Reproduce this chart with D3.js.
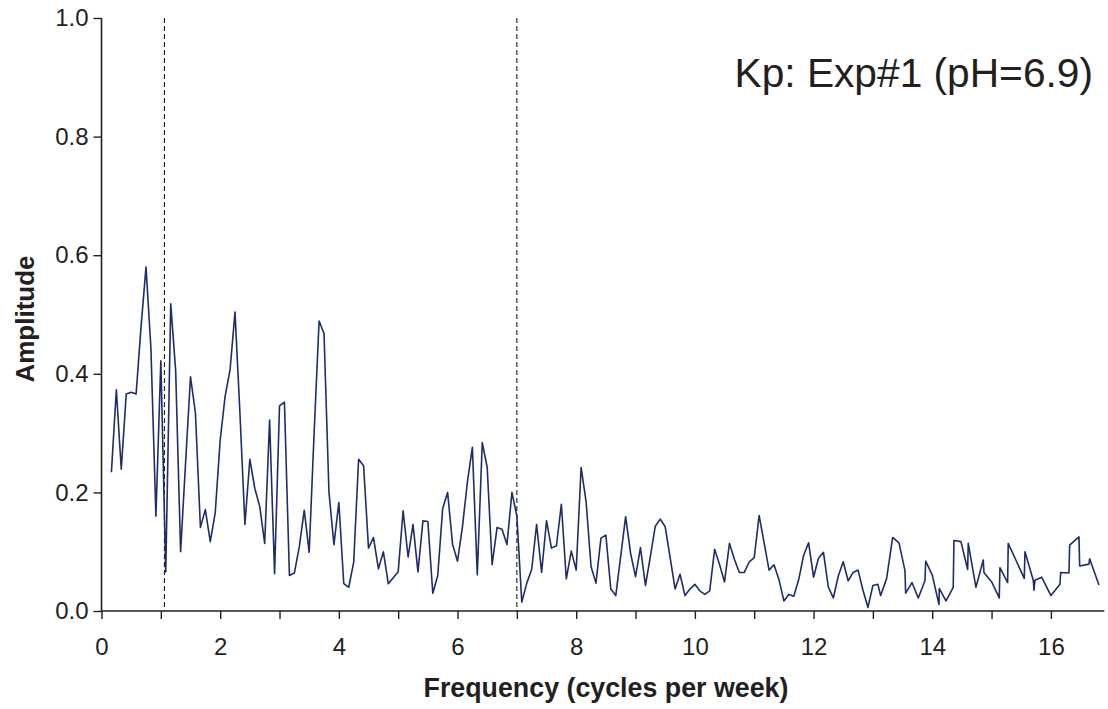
<!DOCTYPE html>
<html>
<head>
<meta charset="utf-8">
<script src="https://cdn.jsdelivr.net/npm/d3@7"></script>
<style>
  html, body { margin: 0; padding: 0; background: #fff; }
  svg { display: block; font-family: "Liberation Sans", Arial, sans-serif; }
</style>
</head>
<body>
<svg id="chart" width="1108" height="709"></svg>
<script>
// ---------------- DATA ----------------
const frequency = [
  0.167,0.250,0.333,0.417,0.500,0.583,0.667,0.750,0.833,0.917,1.000,
  1.083,1.167,1.250,1.333,1.417,1.500,1.583,1.667,1.750,1.833,1.917,2.000,
  2.083,2.167,2.250,2.333,2.417,2.500,2.583,2.667,2.750,2.833,2.917,3.000,
  3.083,3.167,3.250,3.333,3.417,3.500,3.583,3.667,3.750,3.833,3.917,4.000,
  4.083,4.167,4.250,4.333,4.417,4.500,4.583,4.667,4.750,4.833,4.917,5.000,
  5.083,5.167,5.250,5.333,5.417,5.500,5.583,5.667,5.750,5.833,5.917,6.000,
  6.083,6.167,6.250,6.333,6.417,6.500,6.583,6.667,6.750,6.833,6.917,7.000,
  7.083,7.167,7.250,7.333,7.417,7.500,7.583,7.667,7.750,7.833,7.917,8.000,
  8.083,8.167,8.250,8.333,8.417,8.500,8.583,8.667,8.750,8.833,8.917,9.000,
  9.083,9.167,9.250,9.333,9.417,9.500,9.583,9.667,9.750,9.833,9.917,10.000,
  10.083,10.167,10.250,10.333,10.417,10.500,10.583,10.667,10.750,10.833,10.917,11.000,
  11.083,11.167,11.250,11.333,11.417,11.500,11.583,11.667,11.750,11.833,11.917,12.000,
  12.083,12.167,12.250,12.333,12.417,12.500,12.583,12.667,12.750,12.833,12.917,13.000,
  13.083,
  13.131,13.232,13.333,13.440,13.541,13.552,13.658,13.765,13.878,13.890,
  14.000,14.114,14.119,14.232,14.354,14.366,14.484,14.597,14.607,14.737,
  14.860,14.872,15.002,15.130,15.141,15.271,15.281,15.423,15.551,15.563,
  15.703,15.715,15.731,15.844,16.001,16.153,16.165,16.304,16.316,16.473,
  16.485,16.641,16.653,16.810
];
const amplitude = [
  0.234,0.373,0.239,0.366,0.369,0.366,0.480,0.580,0.443,0.160,0.422,
  0.066,0.518,0.405,0.100,0.250,0.395,0.334,0.141,0.171,0.117,0.166,0.288,
  0.362,0.407,0.504,0.334,0.146,0.256,0.207,0.176,0.114,0.322,0.063,0.346,
  0.352,0.060,0.064,0.108,0.170,0.099,0.300,0.489,0.468,0.201,0.112,0.183,
  0.046,0.040,0.082,0.256,0.245,0.106,0.124,0.071,0.100,0.046,0.056,0.066,
  0.169,0.091,0.146,0.066,0.152,0.151,0.030,0.060,0.173,0.200,0.112,0.084,
  0.142,0.218,0.276,0.061,0.284,0.242,0.078,0.141,0.138,0.112,0.200,0.160,
  0.015,0.047,0.070,0.146,0.065,0.152,0.106,0.110,0.180,0.054,0.101,0.069,
  0.242,0.184,0.075,0.047,0.123,0.128,0.037,0.026,0.092,0.159,0.097,0.058,
  0.107,0.043,0.092,0.143,0.155,0.142,0.090,0.037,0.062,0.026,0.037,0.045,
  0.034,0.028,0.034,0.104,0.078,0.049,0.114,0.087,0.065,0.065,0.083,0.090,
  0.161,0.115,0.069,0.078,0.053,0.017,0.028,0.025,0.053,0.094,0.115,0.057,
  0.089,0.099,0.040,0.022,0.059,0.083,0.051,0.065,0.069,0.035,0.006,0.043,
  0.045,
  0.026,0.055,0.124,0.115,0.068,0.030,0.048,0.022,0.051,0.084,
  0.061,0.011,0.038,0.017,0.040,0.119,0.117,0.070,0.114,0.040,
  0.086,0.065,0.049,0.022,0.073,0.048,0.114,0.083,0.055,0.100,
  0.052,0.035,0.052,0.057,0.026,0.045,0.065,0.064,0.111,0.125,
  0.076,0.079,0.088,0.044
];
const markerFrequencies = [1.06, 7.0];
const xTickLabels = [0, 2, 4, 6, 8, 10, 12, 14, 16];
const xMinorTicks = [0,1,2,3,4,5,6,7,8,9,10,11,12,13,14,15,16];
const yTickLabels = [0.0, 0.2, 0.4, 0.6, 0.8, 1.0];
const chartTitle = "Kp: Exp#1 (pH=6.9)";
const xTitle = "Frequency (cycles per week)";
const yTitle = "Amplitude";

// ---------------- LAYOUT ----------------
const svg = d3.select("#chart");
const mLeft = 101.5, mRight = 1104.3, mTop = 18, mBottom = 611;
const x = d3.scaleLinear().domain([0, 16.9]).range([mLeft, mRight]);
const y = d3.scaleLinear().domain([0, 1]).range([mBottom, mTop]);
const axisColor = "#231f20";

// dashed markers
svg.selectAll("line.marker").data(markerFrequencies).enter().append("line")
  .attr("class", "marker")
  .attr("x1", d => x(d)).attr("x2", d => x(d))
  .attr("y1", y(1)).attr("y2", y(0))
  .attr("stroke", "#000").attr("stroke-width", 1)
  .attr("stroke-dasharray", "5,3");

// line
const pts = frequency.map((f, i) => [f, amplitude[i]]);
svg.append("path")
  .datum(pts)
  .attr("fill", "none")
  .attr("stroke", "#1f2c6b")
  .attr("stroke-width", 1.6)
  .attr("stroke-linejoin", "round")
  .attr("d", d3.line().x(d => x(d[0])).y(d => y(d[1])));

// x axis
const xAxis = d3.axisBottom(x).tickValues(xMinorTicks).tickSize(8)
  .tickFormat(d => xTickLabels.includes(d) ? d3.format("d")(d) : "");
const gx = svg.append("g").attr("transform", `translate(0,${mBottom})`).call(xAxis);
gx.select(".domain").attr("d", `M${mLeft},0H${mRight}`).attr("stroke", axisColor).attr("stroke-width", 1.6);
gx.selectAll(".tick line").attr("stroke", axisColor).attr("stroke-width", 1.4);
gx.selectAll(".tick text").attr("font-size", 24).attr("fill", "#231f20")
  .attr("font-family", "'Liberation Sans', Arial, sans-serif").attr("dy", "1.36em");

// y axis
const yAxis = d3.axisLeft(y).tickValues(yTickLabels).tickSize(8).tickPadding(5)
  .tickFormat(d3.format(".1f"));
const gy = svg.append("g").attr("transform", `translate(${mLeft},0)`).call(yAxis);
gy.select(".domain").attr("d", `M0,${mBottom}V${mTop}`).attr("stroke", axisColor).attr("stroke-width", 1.6);
gy.selectAll(".tick line").attr("stroke", axisColor).attr("stroke-width", 1.4);
gy.selectAll(".tick text").attr("font-size", 24).attr("fill", "#231f20")
  .attr("font-family", "'Liberation Sans', Arial, sans-serif");

// titles
svg.append("text")
  .attr("x", 606).attr("y", 697)
  .attr("text-anchor", "middle").attr("font-weight", "bold").attr("font-size", 26.8)
  .attr("fill", "#231f20").text(xTitle);
svg.append("text")
  .attr("transform", `translate(34,319) rotate(-90)`)
  .attr("text-anchor", "middle").attr("font-weight", "bold").attr("font-size", 26)
  .attr("fill", "#231f20").text(yTitle);
svg.append("text")
  .attr("x", 1093).attr("y", 87)
  .attr("text-anchor", "end").attr("font-size", 40.7)
  .attr("fill", "#231f20").text(chartTitle);
</script>
</body>
</html>
